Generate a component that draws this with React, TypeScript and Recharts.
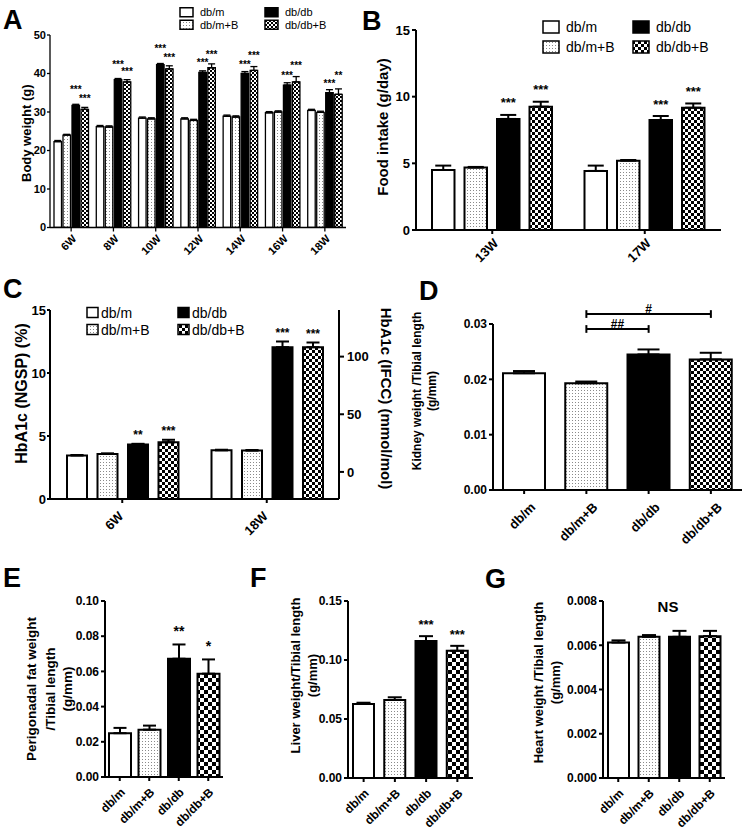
import React from 'react';
import {
  BarChart,
  Bar,
  XAxis,
  YAxis,
  ErrorBar,
  Cell,
  LabelList,
  Legend,
  ReferenceLine,
} from 'recharts';

const FONT = '"Liberation Sans", Arial, Helvetica, sans-serif';

const groups = ['db/m', 'db/m+B', 'db/db', 'db/db+B'];

// A - body weight (g)
const weeksA = ['6W', '8W', '10W', '12W', '14W', '16W', '18W'];
const bwDbm = [22.3, 26.2, 28.4, 28.2, 28.9, 29.8, 30.4];
const bwDbmB = [24.0, 26.1, 28.2, 27.8, 28.7, 30.0, 29.9];
const bwDbdb = [31.7, 38.4, 42.3, 40.3, 40.0, 37.0, 35.0];
const bwDbdbB = [30.7, 37.8, 41.2, 41.5, 40.8, 37.8, 34.6];
const bwErrDbm = [0.3, 0.3, 0.3, 0.3, 0.3, 0.3, 0.3];
const bwErrDbmB = [0.2, 0.3, 0.3, 0.3, 0.3, 0.3, 0.3];
const bwErrDbdb = [0.3, 0.3, 0.3, 0.4, 0.5, 0.6, 0.8];
const bwErrDbdbB = [0.5, 0.6, 0.8, 1.0, 1.0, 1.4, 1.4];
const bwSigNone = ['', '', '', '', '', '', ''];
const bwSigDbdb = ['***', '***', '***', '***', '***', '***', '***'];
const bwSigDbdbB = ['***', '***', '***', '***', '***', '***', '**'];
const bwTicks = [0, 10, 20, 30, 40, 50];

// B - food intake (g/day)
const weeksB = ['13W', '17W'];
const fiDbm = [4.5, 4.43];
const fiDbmB = [4.68, 5.2];
const fiDbdb = [8.33, 8.25];
const fiDbdbB = [9.25, 9.17];
const fiErrDbm = [0.33, 0.4];
const fiErrDbmB = [0.05, 0.05];
const fiErrDbdb = [0.3, 0.3];
const fiErrDbdbB = [0.37, 0.32];
const fiSigNone = ['', ''];
const fiSigDbdb = ['***', '***'];
const fiSigDbdbB = ['***', '***'];
const fiTicks = [0, 5, 10, 15];

// C - HbA1c (NGSP %, IFCC mmol/mol)
const weeksC = ['6W', '18W'];
const hbDbm = [3.45, 3.86];
const hbDbmB = [3.58, 3.84];
const hbDbdb = [4.32, 12.05];
const hbDbdbB = [4.5, 12.05];
const hbErrDbm = [0.04, 0.05];
const hbErrDbmB = [0.04, 0.05];
const hbErrDbdb = [0.06, 0.45];
const hbErrDbdbB = [0.2, 0.37];
const hbSigNone = ['', ''];
const hbSigDbdb = ['**', '***'];
const hbSigDbdbB = ['***', '***'];
const hbTicks = [0, 5, 10, 15];
const ifccTicks = [0, 50, 100];
const ngspToIfcc = (v: number) => (v - 2.15) * 10.929;

// D - kidney weight / tibial length
const kidney = [0.0211, 0.0193, 0.0245, 0.0236];
const kidneyErr = [0.0004, 0.0003, 0.0009, 0.0012];
const kidneyTicks = [0, 0.01, 0.02, 0.03];
const kidneyBrackets = [
  { from: 'db/m+B', to: 'db/db+B', y: 0.0318, text: '#' },
  { from: 'db/m+B', to: 'db/db', y: 0.0291, text: '##' },
];

// E - perigonadal fat
const fat = [0.0249, 0.0269, 0.0672, 0.0587];
const fatErr = [0.003, 0.0023, 0.0081, 0.0081];
const fatSig = ['', '', '**', '*'];
const fatTicks = [0, 0.02, 0.04, 0.06, 0.08, 0.1];

// F - liver
const liver = [0.0628, 0.0661, 0.116, 0.1078];
const liverErr = [0.001, 0.0023, 0.0042, 0.0042];
const liverSig = ['', '', '***', '***'];
const liverTicks = [0, 0.05, 0.1, 0.15];

// G - heart
const heart = [0.00612, 0.00638, 0.00638, 0.00641];
const heartErr = [0.0001, 0.00008, 0.00027, 0.00024];
const heartSig = ['', '', '', ''];
const heartTicks = [0, 0.002, 0.004, 0.006, 0.008];

const fillsFor = (check: string) => ['#ffffff', 'url(#dots)', '#000000', `url(#${check})`];

const rotTick = (fs: number, dx: number, dy: number) => (p: any) => {
  const x = p.x + dx;
  const y = p.y + dy;
  return (
    <text
      x={x}
      y={y}
      transform={`rotate(-45 ${x} ${y})`}
      textAnchor="end"
      fontSize={fs}
      fontWeight="bold"
      fontFamily={FONT}
      fill="#000"
    >
      {p.payload.value}
    </text>
  );
};

const axisTitle = (lines: string[], xs: number[], fs: number, dy: number, angle = -90) => (p: any) => {
  const vb = p.viewBox;
  const cy = vb.y + vb.height / 2 + dy;
  return (
    <g>
      {lines.map((t, i) => {
        const x = vb.x + xs[i];
        return (
          <text
            key={i}
            x={x}
            y={cy}
            transform={`rotate(${angle} ${x} ${cy})`}
            textAnchor="middle"
            dominantBaseline="central"
            fontSize={fs}
            fontWeight="bold"
            fontFamily={FONT}
            fill="#000"
          >
            {t}
          </text>
        );
      })}
    </g>
  );
};

// stars sit above the error bar cap; lift staggers neighbours like the original
const starContent = (vals: number[], errs: number[], sigs: string[], fs: number, gap: number, lift?: number[]) => (p: any) => {
  const vb = p.viewBox || p;
  const i = p.index;
  const s = sigs[i];
  if (!s) return null;
  const errPx = (errs[i] * vb.height) / vals[i];
  const extra = lift ? lift[i] : 0;
  return (
    <text
      x={vb.x + vb.width / 2}
      y={vb.y - errPx - gap - extra}
      textAnchor="middle"
      fontSize={fs}
      fontWeight="bold"
      fontFamily={FONT}
      fill="#000"
    >
      {s}
    </text>
  );
};

interface LegendCfg {
  left: number;
  top: number;
  swW: number;
  swH: number;
  rowH: number;
  colW: number;
  gap: number;
  fs: number;
}

function LegendBox({ cfg, check }: { cfg: LegendCfg; check: string }) {
  const f = fillsFor(check);
  return (
    <svg width={cfg.colW * 2} height={cfg.rowH * 2} style={{ display: 'block', overflow: 'visible' }}>
      {groups.map((g, i) => {
        const x = (i < 2 ? 0 : 1) * cfg.colW + 1;
        const cy = (i % 2) * cfg.rowH + cfg.rowH / 2;
        return (
          <g key={g}>
            <rect x={x} y={cy - cfg.swH / 2} width={cfg.swW} height={cfg.swH} fill={f[i]} stroke="#000" strokeWidth={1.5} />
            <text x={x + cfg.swW + cfg.gap} y={cy} dominantBaseline="central" fontSize={cfg.fs} fontFamily={FONT} fill="#000">
              {g}
            </text>
          </g>
        );
      })}
    </svg>
  );
}

interface SeriesDef {
  values: number[];
  errs: number[];
  sig: string[];
  starGap: number;
  lift?: number[];
}

interface GroupCfg {
  left: number;
  top: number;
  width: number;
  height: number;
  margin: { top: number; right: number; bottom: number; left: number };
  yWidth: number;
  xHeight: number;
  cats: string[];
  series: SeriesDef[];
  domain: [number, number];
  ticks: number[];
  yFs: number;
  yTickSize: number;
  yTickMargin: number;
  xFs: number;
  xdx: number;
  xdy: number;
  barSize: number;
  barGap: number;
  stroke: number;
  cap: number;
  check: string;
  starFs: number;
  title: (p: any) => React.ReactNode;
  legend: LegendCfg;
  right?: React.ReactNode;
}

function GroupPanel({ c }: { c: GroupCfg }) {
  const rows = c.cats.map((cat, i) => {
    const r: Record<string, unknown> = { cat };
    c.series.forEach((s, k) => {
      r[`v${k}`] = s.values[i];
      r[`e${k}`] = [0, s.errs[i]];
    });
    return r;
  });
  const f = fillsFor(c.check);
  return (
    <div style={{ position: 'absolute', left: c.left, top: c.top }}>
      <BarChart width={c.width} height={c.height} data={rows} margin={c.margin} barSize={c.barSize} barGap={c.barGap}>
        <XAxis
          dataKey="cat"
          height={c.xHeight}
          stroke="#000"
          strokeWidth={c.stroke}
          tickSize={4}
          tickMargin={2}
          interval={0}
          tick={rotTick(c.xFs, c.xdx, c.xdy)}
        />
        <YAxis
          yAxisId="l"
          width={c.yWidth}
          domain={c.domain}
          ticks={c.ticks}
          interval={0}
          allowDataOverflow
          stroke="#000"
          strokeWidth={c.stroke}
          tickSize={c.yTickSize}
          tickMargin={c.yTickMargin}
          tick={{ fill: '#000', fontSize: c.yFs, fontWeight: 'bold', fontFamily: FONT }}
          label={c.title}
        />
        {c.right}
        <Legend
          layout="horizontal"
          verticalAlign="middle"
          align="center"
          wrapperStyle={{ left: c.legend.left, top: c.legend.top, width: c.legend.colW * 2, height: c.legend.rowH * 2 }}
          content={() => <LegendBox cfg={c.legend} check={c.check} />}
        />
        {c.series.map((s, k) => (
          <Bar
            key={k}
            yAxisId="l"
            dataKey={`v${k}`}
            name={groups[k]}
            fill={f[k]}
            stroke="#000"
            strokeWidth={c.stroke}
            isAnimationActive={false}
          >
            <ErrorBar dataKey={`e${k}`} width={c.cap} stroke="#000" strokeWidth={c.stroke} direction="y" isAnimationActive={false} />
            <LabelList dataKey={`v${k}`} content={starContent(s.values, s.errs, s.sig, c.starFs, s.starGap, s.lift)} />
          </Bar>
        ))}
      </BarChart>
    </div>
  );
}

interface SingleCfg {
  left: number;
  top: number;
  width: number;
  height: number;
  margin: { top: number; right: number; bottom: number; left: number };
  yWidth: number;
  xHeight: number;
  values: number[];
  errs: number[];
  sig: string[];
  domain: [number, number];
  ticks: number[];
  digits: number;
  yFs: number;
  xFs: number;
  xdx: number;
  xdy: number;
  barSize: number;
  cap: number;
  check: string;
  starFs: number;
  starGap: number;
  title: (p: any) => React.ReactNode;
  extra?: React.ReactNode;
}

function SinglePanel({ c }: { c: SingleCfg }) {
  const rows = groups.map((g, i) => ({ g, v: c.values[i], e: [0, c.errs[i]] }));
  const f = fillsFor(c.check);
  return (
    <div style={{ position: 'absolute', left: c.left, top: c.top }}>
      <BarChart width={c.width} height={c.height} data={rows} margin={c.margin} barSize={c.barSize}>
        <XAxis
          dataKey="g"
          height={c.xHeight}
          stroke="#000"
          strokeWidth={2}
          tickSize={4}
          tickMargin={2}
          interval={0}
          tick={rotTick(c.xFs, c.xdx, c.xdy)}
        />
        <YAxis
          width={c.yWidth}
          domain={c.domain}
          ticks={c.ticks}
          interval={0}
          allowDataOverflow
          stroke="#000"
          strokeWidth={2}
          tickSize={4}
          tickMargin={2}
          tickFormatter={(v: number) => v.toFixed(c.digits)}
          tick={{ fill: '#000', fontSize: c.yFs, fontWeight: 'bold', fontFamily: FONT }}
          label={c.title}
        />
        <Bar dataKey="v" stroke="#000" strokeWidth={2} isAnimationActive={false}>
          {rows.map((r, i) => (
            <Cell key={r.g} fill={f[i]} />
          ))}
          <ErrorBar dataKey="e" width={c.cap} stroke="#000" strokeWidth={2} direction="y" isAnimationActive={false} />
          <LabelList dataKey="v" content={starContent(c.values, c.errs, c.sig, c.starFs, c.starGap)} />
        </Bar>
        {c.extra}
      </BarChart>
    </div>
  );
}

const bracketCap = 0.0007;

export default function App() {
  const panelA: GroupCfg = {
    left: 0, top: 0, width: 360, height: 270,
    margin: { top: 35, right: 14, bottom: 2.5, left: 0 },
    yWidth: 50, xHeight: 40,
    cats: weeksA,
    series: [
      { values: bwDbm, errs: bwErrDbm, sig: bwSigNone, starGap: 0 },
      { values: bwDbmB, errs: bwErrDbmB, sig: bwSigNone, starGap: 0 },
      { values: bwDbdb, errs: bwErrDbdb, sig: bwSigDbdb, starGap: 5, lift: [6, 6, 6, 0, -1, -1, -2] },
      { values: bwDbdbB, errs: bwErrDbdbB, sig: bwSigDbdbB, starGap: 5, lift: [0, 0, 0, 1, 3, 3, 5] },
    ],
    domain: [0, 50], ticks: bwTicks, yFs: 11, yTickSize: 3, yTickMargin: 1,
    xFs: 11, xdx: 6, xdy: 6,
    barSize: 7.5, barGap: 1.5, stroke: 1.3, cap: 3.5, check: 'check2',
    starFs: 10,
    title: axisTitle(['Body weight (g)'], [26], 13, 2),
    legend: { left: 179, top: 6, swW: 13, swH: 9, rowH: 12.5, colW: 85, gap: 7, fs: 11 },
  };

  const panelB: GroupCfg = {
    left: 370, top: 0, width: 375, height: 290,
    margin: { top: 30, right: 24, bottom: 20, left: 0 },
    yWidth: 46, xHeight: 40,
    cats: weeksB,
    series: [
      { values: fiDbm, errs: fiErrDbm, sig: fiSigNone, starGap: 0 },
      { values: fiDbmB, errs: fiErrDbmB, sig: fiSigNone, starGap: 0 },
      { values: fiDbdb, errs: fiErrDbdb, sig: fiSigDbdb, starGap: 7.5 },
      { values: fiDbdbB, errs: fiErrDbdbB, sig: fiSigDbdbB, starGap: 7.5 },
    ],
    domain: [0, 15], ticks: fiTicks, yFs: 13, yTickSize: 4, yTickMargin: 2,
    xFs: 13, xdx: 7, xdy: 8,
    barSize: 22.5, barGap: 10, stroke: 2, cap: 8, check: 'check3',
    starFs: 13,
    title: axisTitle(['Food intake (g/day)'], [12], 15, -3),
    legend: { left: 172, top: 17, swW: 16, swH: 12, rowH: 20, colW: 90, gap: 7, fs: 14 },
  };

  const panelC: GroupCfg = {
    left: 0, top: 290, width: 400, height: 270,
    margin: { top: 20, right: 16, bottom: 21, left: 0 },
    yWidth: 50, xHeight: 40,
    cats: weeksC,
    series: [
      { values: hbDbm, errs: hbErrDbm, sig: hbSigNone, starGap: 0 },
      { values: hbDbmB, errs: hbErrDbmB, sig: hbSigNone, starGap: 0 },
      { values: hbDbdb, errs: hbErrDbdb, sig: hbSigDbdb, starGap: 5 },
      { values: hbDbdbB, errs: hbErrDbdbB, sig: hbSigDbdbB, starGap: 5 },
    ],
    domain: [0, 15], ticks: hbTicks, yFs: 13, yTickSize: 3, yTickMargin: 1,
    xFs: 13, xdx: 2, xdy: 12,
    barSize: 20, barGap: 10.5, stroke: 2, cap: 6.5, check: 'check3',
    starFs: 12,
    title: axisTitle(['HbA1c (NGSP) (%)'], [21.5], 16, -11),
    legend: { left: 86, top: 14, swW: 11, swH: 10, rowH: 17, colW: 91, gap: 3, fs: 14 },
    right: (
      <YAxis
        yAxisId="r"
        orientation="right"
        width={45}
        domain={[ngspToIfcc(0), ngspToIfcc(15)]}
        ticks={ifccTicks}
        interval={0}
        allowDataOverflow
        type="number"
        stroke="#000"
        strokeWidth={2}
        tickSize={5}
        tickMargin={3}
        tick={{ fill: '#000', fontSize: 13, fontWeight: 'bold', fontFamily: FONT }}
        label={axisTitle(['HbA1c (IFCC) (mmol/mol)'], [47], 15, -6, 90)}
      />
    ),
  };

  const panelD: SingleCfg = {
    left: 370, top: 290, width: 375, height: 270,
    margin: { top: 34, right: 3, bottom: 10, left: 0 },
    yWidth: 123, xHeight: 60,
    values: kidney, errs: kidneyErr, sig: ['', '', '', ''],
    domain: [0, 0.03], ticks: kidneyTicks, digits: 2, yFs: 12,
    xFs: 13, xdx: 12, xdy: 12,
    barSize: 42, cap: 11, check: 'check3', starFs: 13, starGap: 7,
    title: axisTitle(['Kidney weight /Tibial length', '(g/mm)'], [47, 62], 12, -16),
    extra: kidneyBrackets.map((b) => (
      <React.Fragment key={b.text}>
        <ReferenceLine
          segment={[{ x: b.from, y: b.y }, { x: b.to, y: b.y }]}
          stroke="#000"
          strokeWidth={2}
          ifOverflow="visible"
          label={{ value: b.text, position: 'top', offset: 1, fill: '#000', fontSize: 12, fontWeight: 'bold', fontFamily: FONT }}
        />
        <ReferenceLine
          segment={[{ x: b.from, y: b.y - bracketCap }, { x: b.from, y: b.y + bracketCap }]}
          stroke="#000"
          strokeWidth={2}
          ifOverflow="visible"
        />
        <ReferenceLine
          segment={[{ x: b.to, y: b.y - bracketCap }, { x: b.to, y: b.y + bracketCap }]}
          stroke="#000"
          strokeWidth={2}
          ifOverflow="visible"
        />
      </React.Fragment>
    )),
  };

  const panelE: SingleCfg = {
    left: 0, top: 590, width: 240, height: 246,
    margin: { top: 11, right: 17, bottom: 9, left: 0 },
    yWidth: 105, xHeight: 50,
    values: fat, errs: fatErr, sig: fatSig,
    domain: [0, 0.1], ticks: fatTicks, digits: 2, yFs: 12,
    xFs: 12, xdx: 6, xdy: 10,
    barSize: 22, cap: 6.5, check: 'check4', starFs: 14, starGap: 8.5,
    title: axisTitle(['Perigonadal fat weight', '/Tibial length', '(g/mm)'], [31, 50, 67], 13.5, 0),
  };

  const panelF: SingleCfg = {
    left: 240, top: 590, width: 245, height: 246,
    margin: { top: 11, right: 12, bottom: 8, left: 0 },
    yWidth: 108, xHeight: 50,
    values: liver, errs: liverErr, sig: liverSig,
    domain: [0, 0.15], ticks: liverTicks, digits: 2, yFs: 12,
    xFs: 12, xdx: 6, xdy: 10,
    barSize: 21, cap: 7, check: 'check4', starFs: 13, starGap: 7,
    title: axisTitle(['Liver weight/Tibial length', '(g/mm)'], [55, 72], 13, -14),
  };

  const panelG: SingleCfg = {
    left: 480, top: 590, width: 265, height: 246,
    margin: { top: 11, right: 20, bottom: 8, left: 0 },
    yWidth: 123, xHeight: 50,
    values: heart, errs: heartErr, sig: heartSig,
    domain: [0, 0.008], ticks: heartTicks, digits: 3, yFs: 12,
    xFs: 12, xdx: 6, xdy: 10,
    barSize: 21, cap: 7, check: 'check4', starFs: 13, starGap: 7,
    title: axisTitle(['Heart weight /Tibial length', '(g/mm)'], [58, 75], 13, -7),
  };

  const letters = [
    { t: 'A', x: 3, y: 29 },
    { t: 'B', x: 362, y: 30 },
    { t: 'C', x: 3, y: 298 },
    { t: 'D', x: 419, y: 300 },
    { t: 'E', x: 3, y: 587 },
    { t: 'F', x: 250, y: 587 },
    { t: 'G', x: 485, y: 588 },
  ];

  return (
    <div style={{ position: 'absolute', left: 0, top: 0, width: 745, height: 836, background: '#fff', fontFamily: FONT }}>
      <svg width={0} height={0} style={{ position: 'absolute' }}>
        <defs>
          <pattern id="dots" width={3} height={3} patternUnits="userSpaceOnUse">
            <rect width={3} height={3} fill="#ffffff" />
            <rect x={1} y={1} width={1} height={1} fill="#8a8a8a" />
          </pattern>
          {[2, 3, 4].map((s) => (
            <pattern key={s} id={`check${s}`} width={s * 2} height={s * 2} patternUnits="userSpaceOnUse">
              <rect width={s * 2} height={s * 2} fill="#ffffff" />
              <rect width={s} height={s} fill="#000000" />
              <rect x={s} y={s} width={s} height={s} fill="#000000" />
            </pattern>
          ))}
        </defs>
      </svg>
      <GroupPanel c={panelA} />
      <GroupPanel c={panelB} />
      <GroupPanel c={panelC} />
      <SinglePanel c={panelD} />
      <SinglePanel c={panelE} />
      <SinglePanel c={panelF} />
      <SinglePanel c={panelG} />
      <svg width={745} height={836} style={{ position: 'absolute', left: 0, top: 0, pointerEvents: 'none' }}>
        {letters.map((l) => (
          <text key={l.t} x={l.x} y={l.y} fontSize={27} fontWeight="bold" fontFamily={FONT} fill="#000">
            {l.t}
          </text>
        ))}
        <text x={668} y={612} textAnchor="middle" fontSize={15} fontWeight="bold" fontFamily={FONT} fill="#000">
          NS
        </text>
      </svg>
    </div>
  );
}
